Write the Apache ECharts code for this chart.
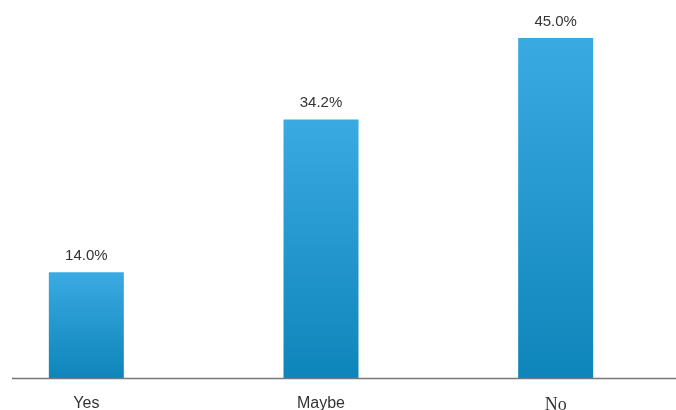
<!DOCTYPE html>
<html><head><meta charset="utf-8">
<script src="https://cdn.jsdelivr.net/npm/echarts@6/dist/echarts.min.js"></script>
<style>html,body{margin:0;padding:0;background:#fff}#c{width:676px;height:410px}</style>
</head><body><div id="c"></div>
<script>
const categories = ['Yes', 'Maybe', 'No'];
const values = [14.0, 34.2, 45.0];
const chart = echarts.init(document.getElementById('c'));
chart.setOption({
  animation: false,
  grid: { left: -31, right: 3, top: 38, bottom: 32, containLabel: false, outerBoundsMode: 'none' },
  xAxis: {
    type: 'category', data: categories,
    axisLine: { show: false }, axisTick: { show: false },
    axisLabel: {
      margin: 18, color: '#333', fontSize: 16, fontFamily: 'Liberation Sans, Arial, sans-serif',
      formatter: v => v === 'No' ? '{s|' + v + '}' : v,
      rich: { s: { fontFamily: 'Liberation Serif, serif', fontSize: 18, color: '#333' } }
    }
  },
  yAxis: { type: 'value', min: 0, max: 45, show: false, splitLine: { show: false } },
  graphic: [{
    type: 'line', shape: { x1: 12, y1: 378.5, x2: 676, y2: 378.5 },
    style: { stroke: '#777', lineWidth: 1.5 }, z: 10
  }],
  series: [{
    type: 'bar', data: values, barWidth: 75,
    itemStyle: {
      color: new echarts.graphic.LinearGradient(0, 0, 0, 1, [
        { offset: 0, color: '#3aaae2' }, { offset: 1, color: '#0e85ba' }
      ])
    },
    label: {
      show: true, position: 'top', distance: 9, color: '#333', fontSize: 15,
      fontFamily: 'Liberation Sans, Arial, sans-serif',
      formatter: p => p.value.toFixed(1) + '%'
    }
  }]
});
</script></body></html>
